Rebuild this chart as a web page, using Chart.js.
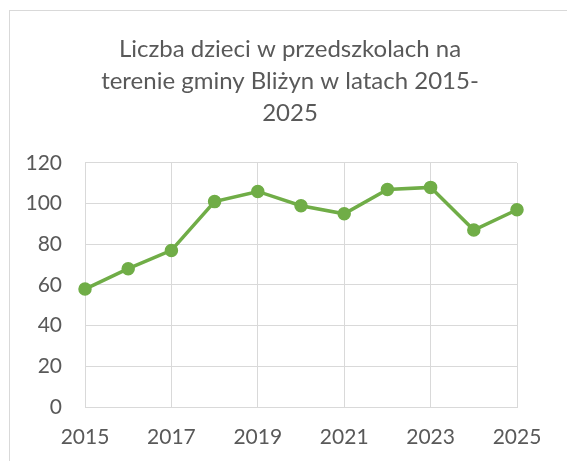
<!DOCTYPE html>
<html>
<head>
<meta charset="utf-8">
<script src="https://cdn.jsdelivr.net/npm/chart.js@4.4.1/dist/chart.umd.min.js"></script>
<style>
  html,body{margin:0;padding:0;background:#fff;overflow:hidden}
  #frame{position:absolute;left:9px;top:10px;width:700px;height:600px;
    border-left:1px solid #d9d9d9;border-top:1px solid #d9d9d9}
  #wrap{position:absolute;left:0;top:0;width:567px;height:461px}
</style>
</head>
<body>
<div id="frame"></div>
<div id="wrap"><canvas id="chart"></canvas></div>
<script>
// data
const years  = ['2015','2016','2017','2018','2019','2020','2021','2022','2023','2024','2025'];
const kids   = [58, 68, 77, 101, 106, 99, 95, 107, 108, 87, 97];
const yTicks = [0, 20, 40, 60, 80, 100, 120];
const titleLines = ['Liczba dzieci w przedszkolach na', 'terenie gminy Bliżyn w latach 2015-', '2025'];

const GREEN = '#70AD47', GRID = '#d9d9d9', TEXT = '#595959';
const FONT = 'Lato';

new Chart(document.getElementById('chart'), {
  type: 'line',
  data: {
    labels: years,
    datasets: [{
      data: kids,
      borderColor: GREEN,
      backgroundColor: GREEN,
      borderWidth: 3.5,
      pointRadius: 6,
      pointBorderWidth: 1.5,
      pointBackgroundColor: GREEN,
      pointBorderColor: GREEN,
      tension: 0
    }]
  },
  options: {
    responsive: true,
    maintainAspectRatio: false,
    animation: false,
    layout: { padding: { left: 13, right: 0, top: 0, bottom: 0 } },
    plugins: {
      legend: { display: false },
      tooltip: { enabled: false },
      title: {
        display: true,
        text: titleLines,
        color: TEXT,
        font: { family: FONT, size: 24, weight: 'normal', lineHeight: 1.333 },
        padding: { top: 33, bottom: 34 }
      }
    },
    scales: {
      x: {
        grid: { color: GRID, lineWidth: 1, drawTicks: false },
        border: { color: GRID, width: 1 },
        ticks: {
          autoSkip: false,
          maxRotation: 0,
          color: TEXT,
          padding: 18,
          font: { family: FONT, size: 21 },
          callback: (v, i) => (i % 2 === 0 ? years[i] : null)
        },
        afterFit: s => { s.height = 54; }
      },
      y: {
        min: 0, max: 120,
        afterBuildTicks: s => { s.ticks = yTicks.map(v => ({ value: v })); },
        grid: { color: GRID, lineWidth: 1, drawTicks: false },
        border: { color: GRID, width: 1 },
        ticks: {
          color: TEXT,
          padding: 23,
          font: { family: FONT, size: 21 }
        },
        afterFit: s => { s.width = 72; }
      },
      yR: {
        position: 'right',
        grid: { display: false, drawTicks: false },
        border: { display: false },
        ticks: { display: false },
        afterFit: s => { s.width = 50; }
      }
    }
  }
});
</script>
</body>
</html>
